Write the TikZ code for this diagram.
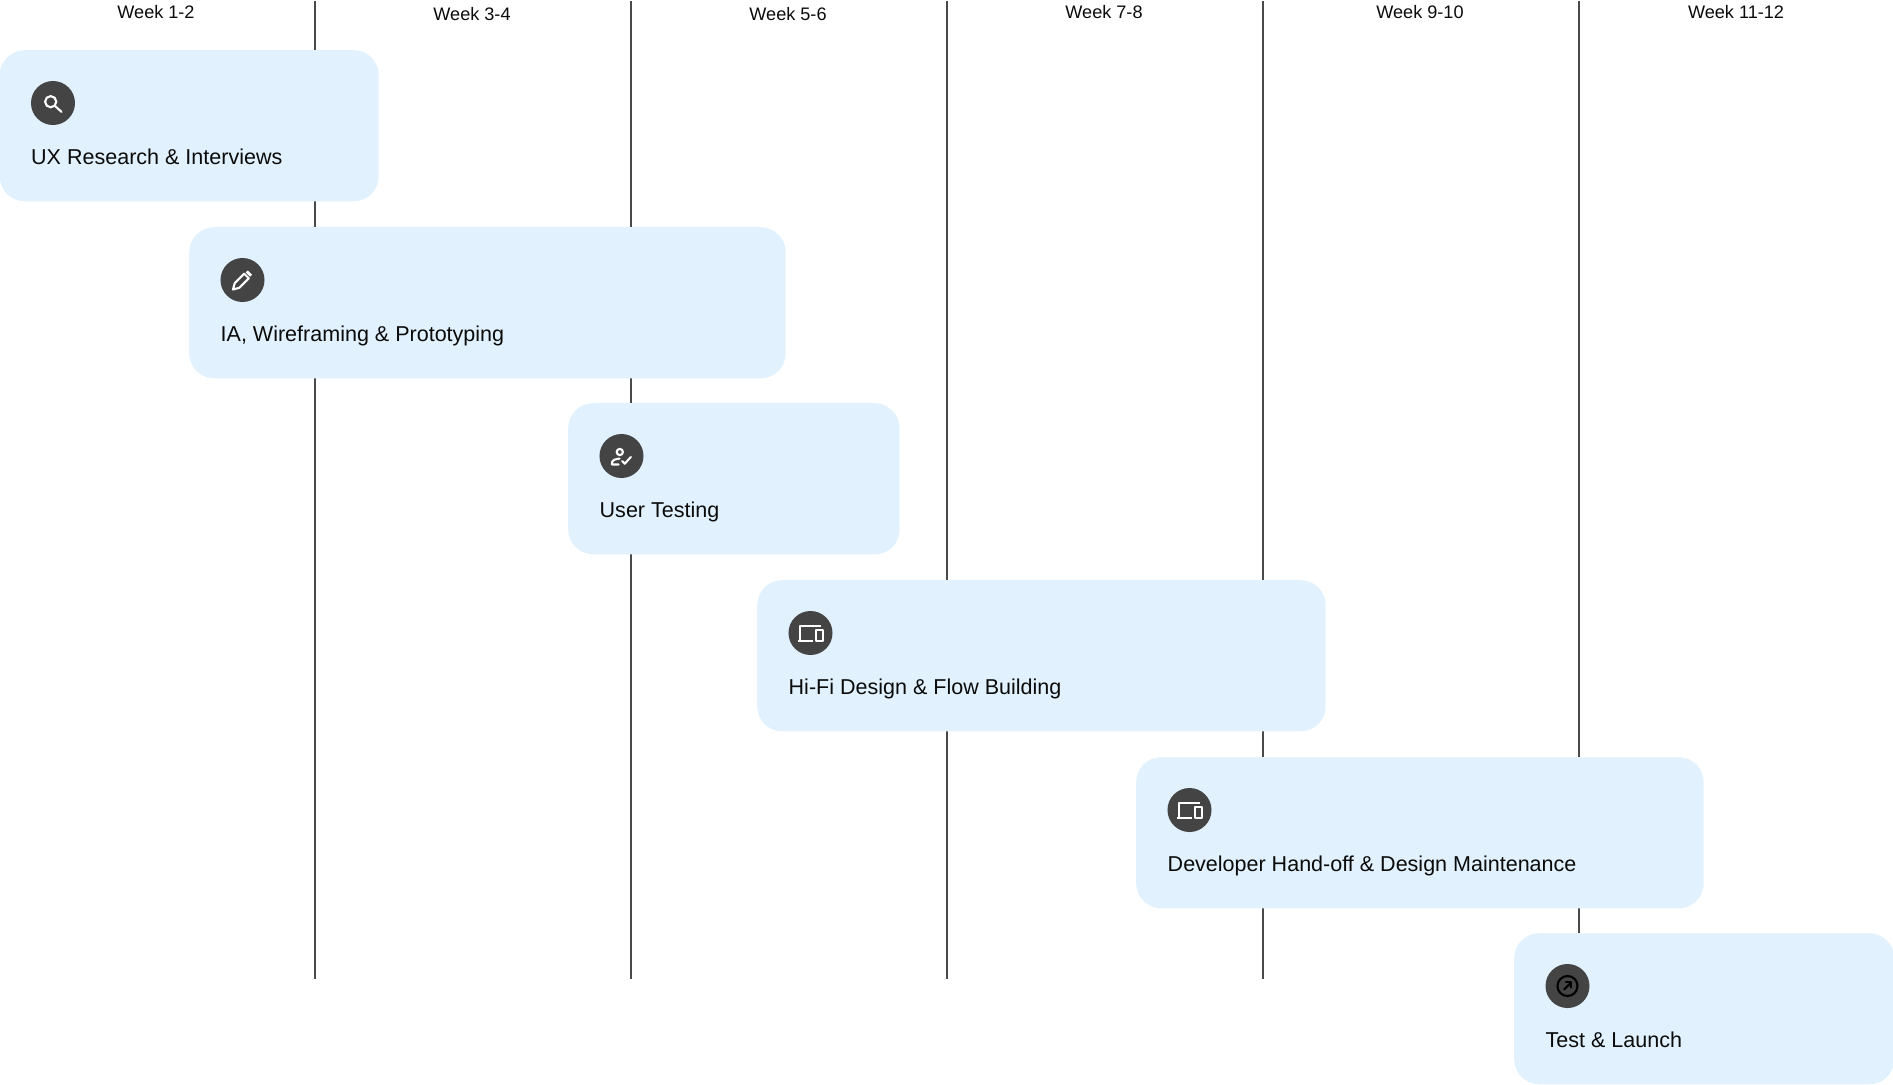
\documentclass[tikz,border=0pt]{standalone}
\usepackage{fontspec}
\setmainfont{Liberation Sans}
\usetikzlibrary{positioning}
\definecolor{taskblue}{HTML}{E1F1FE}
\definecolor{icondark}{HTML}{444444}
\definecolor{gridgray}{HTML}{4A4A4A}
\definecolor{inkblack}{HTML}{0B0B0B}
\tikzset{
  weeklabel/.style={font=\fontsize{5.15}{6}\selectfont,text=inkblack,anchor=base,inner sep=0pt},
  gridline/.style={gridgray,line width=0.57pt},
  taskbox/.style={fill=taskblue,rounded corners=0.25cm,anchor=north west,inner sep=0pt,minimum height=1.51cm},
  tasklabel/.style={font=\fontsize{6.12}{7}\selectfont,text=inkblack,anchor=base west,inner sep=0pt},
  iconbadge/.style={circle,fill=icondark,minimum size=0.44cm,inner sep=0pt},
  iconline/.style={white,line width=0.6pt,line cap=round,line join=round}
}
\begin{document}
\begin{tikzpicture}[x=0.01cm,y=-0.01cm]
  \useasboundingbox (0,0) rectangle (1893,1084);
  % --- week columns
  \foreach \w/\x/\y [count=\i] in {Week 1-2/156/18.5,Week 3-4/472/20.5,Week 5-6/788/20.5,Week 7-8/1104/18.5,Week 9-10/1420/18.5,Week 11-12/1736/18.5} {
    \node[weeklabel] (week\i) at (\x,\y) {\w};
  }
  \foreach \x [count=\i] in {315,631,947,1263,1578.5} {
    \coordinate (top\i) at (\x,1);
    \coordinate (bot\i) at (\x,979);
    \draw[gridline] (top\i) -- (bot\i);
  }
  % --- task bars
  \foreach \x/\y/\w/\t [count=\i] in {
    -1/49.5/379/{UX Research \& Interviews},
    188.5/226.5/596.5/{IA, Wireframing \& Prototyping},
    567.5/402.5/331.5/{User Testing},
    756.5/579.5/568.5/{Hi-Fi Design \& Flow Building},
    1135.5/756.5/567.5/{Developer Hand-off \& Design Maintenance},
    1513.5/932.5/380/{Test \& Launch}} {
    \node[taskbox,minimum width=\w*0.01cm] (task\i) at (\x,\y) {};
    \node[iconbadge] (icon\i) at (\x+54,\y+53.5) {};
    \node[tasklabel] (label\i) at (\x+31.5,\y+114.5) {\t};
  }
  % --- icons
  \begin{scope}[shift={(icon1.center)},iconline]
    \draw (-2.3,-1.3) circle (5.6);
    \draw (1.8,2.8) -- (8.5,8.8);
  \end{scope}
  \begin{scope}[shift={(icon2.center)},iconline]
    \draw (-9.5,9.5) -- (-7.8,3.2) -- (1.7,-6.3) -- (6.3,-1.7) -- (-3.2,7.8) -- cycle;
    \fill (3.3,-7.7) -- (7.7,-3.3) -- (9.6,-5.4) -- (5.4,-9.6) -- cycle;
  \end{scope}
  \begin{scope}[shift={(icon3.center)},iconline]
    \draw (-1.7,-4) circle (3.1);
    \draw (-3,8.5) -- (-9.5,8.5) -- (-9.5,6.5) .. controls (-9.5,4) and (-5,2.8) .. (-2,2.6);
    \draw (0.7,5) -- (3.3,7.7) -- (9.3,1);
  \end{scope}
  \begin{scope}[shift={(icon4.center)},iconline,line cap=butt]
    \draw (10.3,-7.3) -- (-10.7,-7.3) -- (-10.7,7.5);
    \draw (-12.3,7.7) -- (2.7,7.7);
    \draw (5.3,-3.3) rectangle (12.7,8.3);
  \end{scope}
  \begin{scope}[shift={(icon5.center)},iconline,line cap=butt]
    \draw (10.3,-7.3) -- (-10.7,-7.3) -- (-10.7,7.5);
    \draw (-12.3,7.7) -- (2.7,7.7);
    \draw (5.3,-3.3) rectangle (12.7,8.3);
  \end{scope}
  \begin{scope}[shift={(icon6.center)},iconline,black]
    \draw (0,0) circle (10);
    \draw (-3.3,3.3) -- (3.5,-3.5);
    \draw (-1.5,-3.8) -- (3.8,-3.8) -- (3.8,1.5);
  \end{scope}
\end{tikzpicture}
\end{document}
